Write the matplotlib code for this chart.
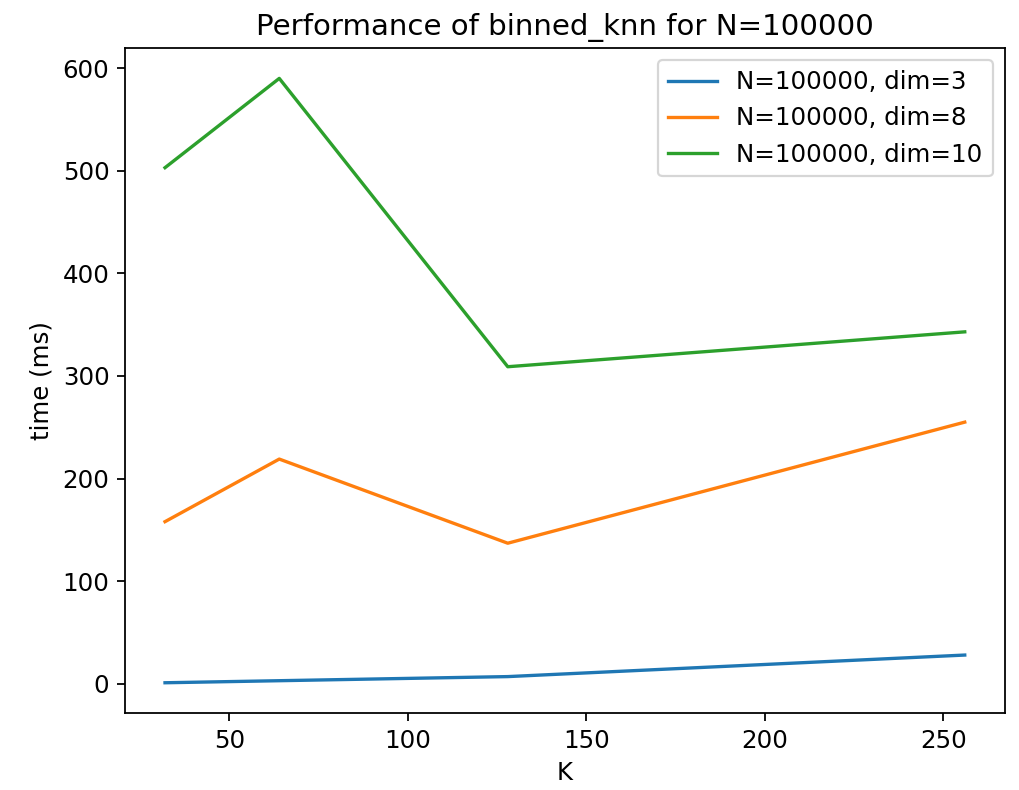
import matplotlib
matplotlib.use("Agg")
import matplotlib.pyplot as plt

# K values and timings (ms)
k_values = [32, 64, 128, 256]
time_dim3 = [1, 3, 7, 28]
time_dim8 = [158, 219, 137, 255]
time_dim10 = [503, 590, 309, 343]

plt.rcParams['font.size'] = 11

fig, ax = plt.subplots(figsize=(1019 / 160, 790 / 160), dpi=160)
fig.subplots_adjust(left=0.1227, right=0.986, top=0.939, bottom=0.0975)

ax.plot(k_values, time_dim3, label="N=100000, dim=3")
ax.plot(k_values, time_dim8, label="N=100000, dim=8")
ax.plot(k_values, time_dim10, label="N=100000, dim=10")

ax.set_title("Performance of binned_knn for N=100000")
ax.set_xlabel("K")
ax.set_ylabel("time (ms)")
ax.legend()

fig.savefig("out.png", dpi=160)
